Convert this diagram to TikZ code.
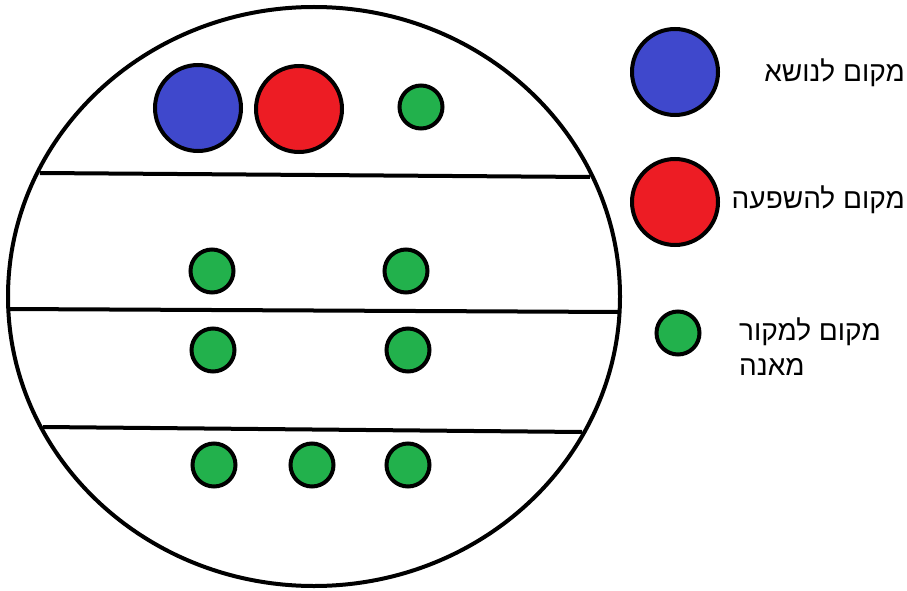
\documentclass[tikz,border=0pt]{standalone}
\usepackage{fontspec}
\newfontfamily\hebfont[Script=Hebrew]{Liberation Sans}
\TeXXeTstate=1
\definecolor{paintblue}{HTML}{3F48CC}
\definecolor{paintred}{HTML}{ED1C24}
\definecolor{paintgreen}{HTML}{22B14C}

\begin{document}
\begin{tikzpicture}[x=1pt, y=-1pt,
    spot/.style={circle, draw=black, line width=4pt, inner sep=0pt},
    bigspot/.style={spot, minimum size=86pt},
    smallspot/.style={spot, minimum size=43pt, fill=paintgreen},
    legendtext/.style={font=\hebfont\fontsize{28}{35}\selectfont, inner sep=0pt}]
    \useasboundingbox (0,0) rectangle (907,591);

    % the big round area and its bands
    \draw[line width=4pt] (314,296.5) ellipse [x radius=306, y radius=289.5];
    \draw[line width=4pt] (40,173) -- (590,177);
    \draw[line width=4pt] (8,309) -- (620,312);
    \draw[line width=4pt] (43,427) -- (582,432);

    % spots inside
    \node[bigspot, fill=paintblue] (topic) at (198,108) {};
    \node[bigspot, fill=paintred] (influence) at (299,109) {};
    \foreach \px/\py [count=\i] in {421/107, 212/271, 406/271, 213/350, 408/350,
                                     214/465, 312/465, 408/465}
        \node[smallspot] (source\i) at (\px,\py) {};

    % legend
    \node[bigspot, fill=paintblue] (keytopic) at (675,72) {};
    \node[bigspot, fill=paintred] (keyinfluence) at (675,202) {};
    \node[smallspot] (keysource) at (678,333) {};

    \node[legendtext, anchor=east] (txttopic) at (905,73) {\beginR מקום לנושא\endR};
    \node[legendtext, anchor=east] (txtinfluence) at (905,200) {\beginR מקום להשפעה\endR};
    \node[legendtext, anchor=north west, align=left] (txtsource) at (739,318)
        {\beginR מקום למקור\endR\\\beginR מאנה\endR};
\end{tikzpicture}
\end{document}
